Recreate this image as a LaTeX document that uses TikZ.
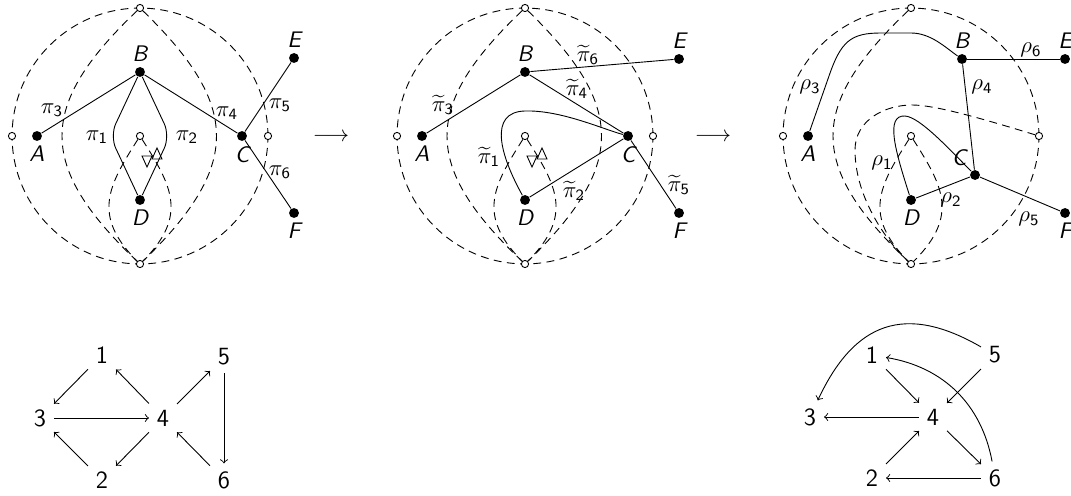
\documentclass[tikz,border=0pt]{standalone}
\usepackage{amsmath,amssymb}
\usetikzlibrary{arrows}

\tikzset{
  vtx/.style={circle, fill=black, inner sep=0pt, minimum size=4.4pt},
  hole/.style={circle, draw, fill=white, inner sep=0pt, minimum size=3.2pt},
  arcline/.style={dash pattern=on 3.5pt off 2.4pt},
  vlab/.style={inner sep=2pt, font=\sffamily\itshape},
  elab/.style={inner sep=0pt},
  qv/.style={font=\sffamily\fontsize{11}{13}\selectfont},
}
\newcommand{\ps}[1]{\pi_{\mathsf{#1}}}
\newcommand{\pt}[1]{\widetilde{\pi}_{\mathsf{#1}}}
\newcommand{\rs}[1]{\rho_{\mathsf{#1}}}

\begin{document}
\begin{tikzpicture}[x=0.444pt, y=-0.444pt, font=\sffamily]
  \useasboundingbox (0,0) rectangle (1071,496);

  % first surface
  \begin{scope}[shift={(140,136)}]
    \draw[arcline] (0,0) circle[radius=56.8pt];
    \node[hole] (tp1) at (0,-128) {};
    \node[hole] (bt1) at (0,128) {};
    \node[hole] (lf1) at (-128,0) {};
    \node[hole] (rt1) at (128,0) {};
    \node[hole] (ct1) at (0,0) {};
    \draw[arcline] (tp1) .. controls (-103,-30) and (-103,30) .. (bt1);
    \draw[arcline] (tp1) .. controls (101,-30) and (101,30) .. (bt1);
    \draw[arcline] (ct1) .. controls (-31,49) and (-49,79) .. (bt1);
    \draw[arcline] (ct1) .. controls (31,49) and (49,79) .. (bt1);
    \draw (2,20) -- (12,20) -- (7,31) -- cycle;
    \draw (12,23) -- (22,23) -- (17,12) -- cycle;
    \node[vtx, label={[vlab]below:A}] (a1) at (-103,0) {};
    \node[vtx, label={[vlab]above:B}] (b1) at (0,-64) {};
    \node[vtx, label={[vlab]below:C}] (c1) at (102,0) {};
    \node[vtx, label={[vlab]below:D}] (d1) at (0,64) {};
    \node[vtx, label={[vlab]above:E}] (e1) at (154,-78) {};
    \node[vtx, label={[vlab]below:F}] (f1) at (154,77) {};
    \draw (a1) -- (b1) -- (c1);
    \draw (c1) -- (e1);
    \draw (c1) -- (f1);
    \draw[rounded corners=6pt] (b1) -- (-30,0) -- (d1);
    \draw[rounded corners=6pt] (b1) -- (30,0) -- (d1);
    \node[elab] (p11) at (-43,1) {$\ps1$};
    \node[elab] (p12) at (47,1) {$\ps2$};
    \node[elab] (p13) at (-88,-26) {$\ps3$};
    \node[elab] (p14) at (87,-23) {$\ps4$};
    \node[elab] (p15) at (140,-31) {$\ps5$};
    \node[elab] (p16) at (140,36) {$\ps6$};
  \end{scope}

  \node (arr1) at (331,137) {$\longrightarrow$};

  % second surface
  \begin{scope}[shift={(525,136)}]
    \draw[arcline] (0,0) circle[radius=56.8pt];
    \node[hole] (tp2) at (0,-128) {};
    \node[hole] (bt2) at (0,128) {};
    \node[hole] (lf2) at (-128,0) {};
    \node[hole] (rt2) at (128,0) {};
    \node[hole] (ct2) at (0,0) {};
    \draw[arcline] (tp2) .. controls (-103,-30) and (-103,30) .. (bt2);
    \draw[arcline] (tp2) .. controls (101,-30) and (101,30) .. (bt2);
    \draw[arcline] (ct2) .. controls (-31,49) and (-49,79) .. (bt2);
    \draw[arcline] (ct2) .. controls (31,49) and (49,79) .. (bt2);
    \draw (2,20) -- (12,20) -- (7,31) -- cycle;
    \draw (12,23) -- (22,23) -- (17,12) -- cycle;
    \node[vtx, label={[vlab]below:A}] (a2) at (-103,0) {};
    \node[vtx, label={[vlab]above:B}] (b2) at (0,-64) {};
    \node[vtx, label={[vlab]below:C}] (c2) at (103,0) {};
    \node[vtx, label={[vlab]below:D}] (d2) at (0,64) {};
    \node[vtx, label={[vlab]above:E}] (e2) at (154,-77) {};
    \node[vtx, label={[vlab]below:F}] (f2) at (154,77) {};
    \draw (a2) -- (b2) -- (c2) -- (f2);
    \draw (b2) -- (e2);
    \draw (d2) -- (c2);
    \draw (d2) .. controls (-25,19) and (-37,-24) .. (0,-25)
      .. controls (35,-26) and (75,-8) .. (c2);
    \node[elab] (p21) at (-36,21) {$\pt1$};
    \node[elab] (p22) at (49,55) {$\pt2$};
    \node[elab] (p23) at (-82,-31) {$\pt3$};
    \node[elab] (p24) at (52,-47) {$\pt4$};
    \node[elab] (p25) at (154,49) {$\pt5$};
    \node[elab] (p26) at (63,-81) {$\pt6$};
  \end{scope}

  \node (arr2) at (713,137) {$\longrightarrow$};

  % third surface
  \begin{scope}[shift={(911,136)}]
    \draw[arcline] (0,0) circle[radius=56.8pt];
    \node[hole] (tp3) at (0,-128) {};
    \node[hole] (bt3) at (0,128) {};
    \node[hole] (lf3) at (-128,0) {};
    \node[hole] (rt3) at (128,0) {};
    \node[hole] (ct3) at (0,0) {};
    \draw[arcline] (tp3) .. controls (-103,-30) and (-103,30) .. (bt3);
    \draw[arcline] (rt3) .. controls (69,-18) and (24,-31) .. (1,-31)
      .. controls (-26,-31) and (-56,-16) .. (-56,14)
      .. controls (-56,64) and (-21,109) .. (bt3);
    \draw[arcline] (ct3) .. controls (-31,49) and (-49,79) .. (bt3);
    \draw[arcline] (ct3) .. controls (31,49) and (49,79) .. (bt3);
    \node[vtx, label={[vlab]below:A}] (a3) at (-103,0) {};
    \node[vtx, label={[vlab]above:B}] (b3) at (51,-77) {};
    \node[vtx, label={[vlab]above left:C}] (c3) at (64,39) {};
    \node[vtx, label={[vlab]below:D}] (d3) at (0,64) {};
    \node[vtx, label={[vlab]above:E}] (e3) at (154,-77) {};
    \node[vtx, label={[vlab]below:F}] (f3) at (154,77) {};
    \draw (a3) -- (-82,-60) .. controls (-70,-95) and (-60,-103) .. (-30,-103)
      -- (0,-103) .. controls (20,-103) and (35,-88) .. (b3);
    \draw (b3) -- (e3);
    \draw (b3) -- (c3) -- (f3);
    \draw (d3) -- (c3);
    \draw (d3) .. controls (-16,14) and (-26,-21) .. (-6,-20)
      .. controls (9,-19) and (39,14) .. (c3);
    \node[elab] (p31) at (-29,27) {$\rs1$};
    \node[elab] (p32) at (40,64) {$\rs2$};
    \node[elab] (p33) at (-101,-49) {$\rs3$};
    \node[elab] (p34) at (71,-49) {$\rs4$};
    \node[elab] (p35) at (118,83) {$\rs5$};
    \node[elab] (p36) at (120,-86) {$\rs6$};
  \end{scope}

  % quiver before the move
  \node[qv] (q1) at (102,355) {1};
  \node[qv] (q2) at (102,480) {2};
  \node[qv] (q3) at (40,418) {3};
  \node[qv] (q4) at (163,418) {4};
  \node[qv] (q5) at (224,357) {5};
  \node[qv] (q6) at (224,480) {6};
  \begin{scope}[->]
    \draw (q1) to (q3);
    \draw (q4) to (q1);
    \draw (q3) to (q4);
    \draw (q4) to (q2);
    \draw (q2) to (q3);
    \draw (q4) to (q5);
    \draw (q5) to (q6);
    \draw (q6) to (q4);
  \end{scope}

  % quiver after the move
  \node[qv] (w1) at (872,355) {1};
  \node[qv] (w2) at (872,478) {2};
  \node[qv] (w3) at (810,417) {3};
  \node[qv] (w4) at (933,417) {4};
  \node[qv] (w5) at (995,355) {5};
  \node[qv] (w6) at (995,478) {6};
  \begin{scope}[->]
    \draw (w1) to (w4);
    \draw (w5) to (w4);
    \draw (w4) to (w3);
    \draw (w2) to (w4);
    \draw (w4) to (w6);
    \draw (w6) to (w2);
    \draw (w6) to[bend right=35] (w1);
    \draw (w5) to[out=150, in=65, looseness=1.3] (w3);
  \end{scope}
\end{tikzpicture}
\end{document}
